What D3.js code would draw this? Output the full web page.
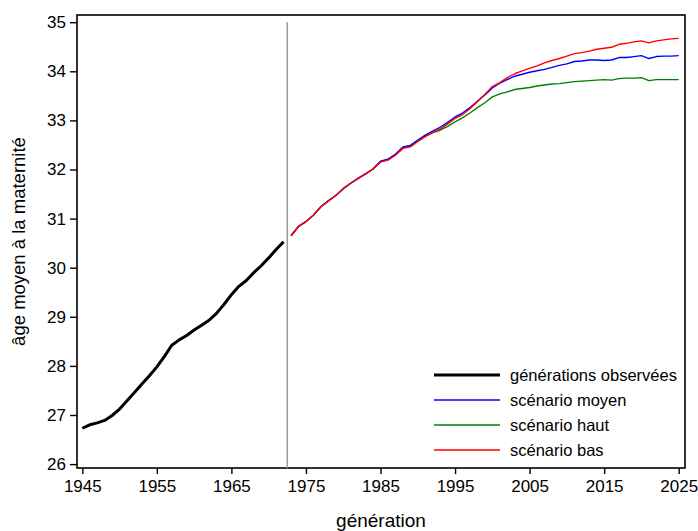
<!DOCTYPE html>
<html>
<head>
<meta charset="utf-8">
<script src="https://cdn.jsdelivr.net/npm/d3@7"></script>
<style>
  html, body { margin: 0; padding: 0; background: #fff; }
  svg { display: block; font-family: "Liberation Sans", Arial, sans-serif; }
</style>
</head>
<body>
<svg id="chart" width="698" height="531"></svg>
<script>
// Âge moyen à la maternité par génération : observé puis projeté
const observedYears = d3.range(1945, 1973);
const observedAge = [
  26.73, 26.80, 26.84, 26.89, 26.99, 27.12, 27.29, 27.46, 27.63, 27.80,
  27.98, 28.19, 28.42, 28.53, 28.62, 28.73, 28.83, 28.93, 29.07, 29.25,
  29.45, 29.62, 29.74, 29.90, 30.04, 30.20, 30.37, 30.53
];

const projYears = d3.range(1973, 2026);
const scenarioBas = [
  30.65, 30.84, 30.94, 31.07, 31.24, 31.36, 31.47, 31.61, 31.72, 31.82,
  31.91, 32.01, 32.15, 32.19, 32.29, 32.43, 32.46, 32.57, 32.67, 32.75,
  32.82, 32.93, 33.04, 33.12, 33.24, 33.38, 33.53, 33.69, 33.77, 33.87,
  33.95, 34.01, 34.06, 34.11, 34.17, 34.22, 34.26, 34.31, 34.36, 34.38,
  34.41, 34.45, 34.47, 34.49, 34.55, 34.57, 34.60, 34.62, 34.58, 34.62,
  34.64, 34.66, 34.67
];
const scenarioMoyen = [
  30.65, 30.84, 30.94, 31.07, 31.24, 31.36, 31.47, 31.61, 31.72, 31.82,
  31.91, 32.01, 32.17, 32.21, 32.31, 32.46, 32.49, 32.60, 32.70, 32.78,
  32.86, 32.96, 33.07, 33.15, 33.26, 33.39, 33.52, 33.66, 33.76, 33.83,
  33.90, 33.94, 33.98, 34.01, 34.04, 34.08, 34.12, 34.15, 34.20, 34.21,
  34.23, 34.23, 34.22, 34.23, 34.28, 34.28, 34.30, 34.32, 34.26, 34.30,
  34.31, 34.31, 34.32
];
const scenarioHaut = [
  30.65, 30.84, 30.94, 31.07, 31.24, 31.36, 31.47, 31.61, 31.72, 31.82,
  31.91, 32.01, 32.16, 32.20, 32.30, 32.44, 32.47, 32.58, 32.68, 32.75,
  32.80, 32.88, 32.97, 33.05, 33.15, 33.26, 33.36, 33.48, 33.54, 33.58,
  33.63, 33.65, 33.67, 33.70, 33.72, 33.74, 33.75, 33.77, 33.79, 33.80,
  33.81, 33.82, 33.83, 33.82, 33.85, 33.86, 33.86, 33.87, 33.81, 33.83,
  33.83, 33.83, 33.83
];

const xTicks = [1945, 1955, 1965, 1975, 1985, 1995, 2005, 2015, 2025];
const yTicks = [26, 27, 28, 29, 30, 31, 32, 33, 34, 35];
const lastObserved = 1972.5;

const series = [
  { name: "scénario haut", values: scenarioHaut, color: "#008000" },
  { name: "scénario moyen", values: scenarioMoyen, color: "#0000ff" },
  { name: "scénario bas", values: scenarioBas, color: "#ff0000" }
];
const legendItems = [
  { name: "générations observées", color: "#000000", width: 3 },
  { name: "scénario moyen", color: "#0000ff", width: 1.3 },
  { name: "scénario haut", color: "#008000", width: 1.3 },
  { name: "scénario bas", color: "#ff0000", width: 1.3 }
];

const svg = d3.select("#chart");
const frame = { left: 77, right: 685, top: 15, bottom: 468 };

const x = d3.scaleLinear().domain([1945, 2025]).range([82.3, 678.7]);
const y = d3.scaleLinear().domain([26, 35]).range([464.1, 22.2]);

// Cadre du graphique
svg.append("rect")
  .attr("x", frame.left).attr("y", frame.top)
  .attr("width", frame.right - frame.left)
  .attr("height", frame.bottom - frame.top)
  .attr("fill", "none").attr("stroke", "#000").attr("stroke-width", 1.6);

// Axe des ordonnées
const yAxis = svg.append("g")
  .attr("transform", `translate(${frame.left},0)`)
  .call(d3.axisLeft(y).tickValues(yTicks).tickFormat(d3.format("d")).tickSize(7).tickPadding(4));
// Axe des abscisses
const xAxis = svg.append("g")
  .attr("transform", `translate(0,${frame.bottom})`)
  .call(d3.axisBottom(x).tickValues(xTicks).tickFormat(d3.format("d")).tickSize(6).tickPadding(6));

[yAxis, xAxis].forEach(g => {
  g.select(".domain").remove();
  g.selectAll("line").attr("stroke", "#000").attr("stroke-width", 1.4);
  g.selectAll("text").attr("fill", "#000").style("font-size", "17px")
    .style("font-family", "'Liberation Sans', Arial, sans-serif");
});

// Séparation observé / projeté
svg.append("line")
  .attr("x1", x(lastObserved)).attr("x2", x(lastObserved))
  .attr("y1", y(35)).attr("y2", frame.bottom)
  .attr("stroke", "#999").attr("stroke-width", 1.5);

const line = d3.line().x(d => x(d[0])).y(d => y(d[1]));

series.forEach(s => {
  svg.append("path")
    .datum(projYears.map((yr, i) => [yr, s.values[i]]))
    .attr("d", line)
    .attr("fill", "none")
    .attr("stroke", s.color)
    .attr("stroke-width", 1.4)
    .attr("stroke-linejoin", "round");
});

svg.append("path")
  .datum(observedYears.map((yr, i) => [yr, observedAge[i]]))
  .attr("d", line)
  .attr("fill", "none")
  .attr("stroke", "#000")
  .attr("stroke-width", 3)
  .attr("stroke-linejoin", "round");

// Légende
const legend = svg.append("g").attr("transform", "translate(434,375)");
legendItems.forEach((it, i) => {
  const g = legend.append("g").attr("transform", `translate(0,${i * 25})`);
  g.append("line").attr("x1", 0).attr("x2", 66).attr("y1", 0).attr("y2", 0)
    .attr("stroke", it.color).attr("stroke-width", it.width);
  g.append("text").attr("x", 76).attr("y", 0).attr("dy", "0.35em")
    .style("font-size", "16.5px").attr("fill", "#000").text(it.name);
});

// Titres des axes
svg.append("text")
  .attr("x", (frame.left + frame.right) / 2).attr("y", 527)
  .attr("text-anchor", "middle").style("font-size", "19px").text("génération");
svg.append("text")
  .attr("transform", `translate(25,${(frame.top + frame.bottom) / 2}) rotate(-90)`)
  .attr("text-anchor", "middle").style("font-size", "18.5px").text("âge moyen à la maternité");
</script>
</body>
</html>
